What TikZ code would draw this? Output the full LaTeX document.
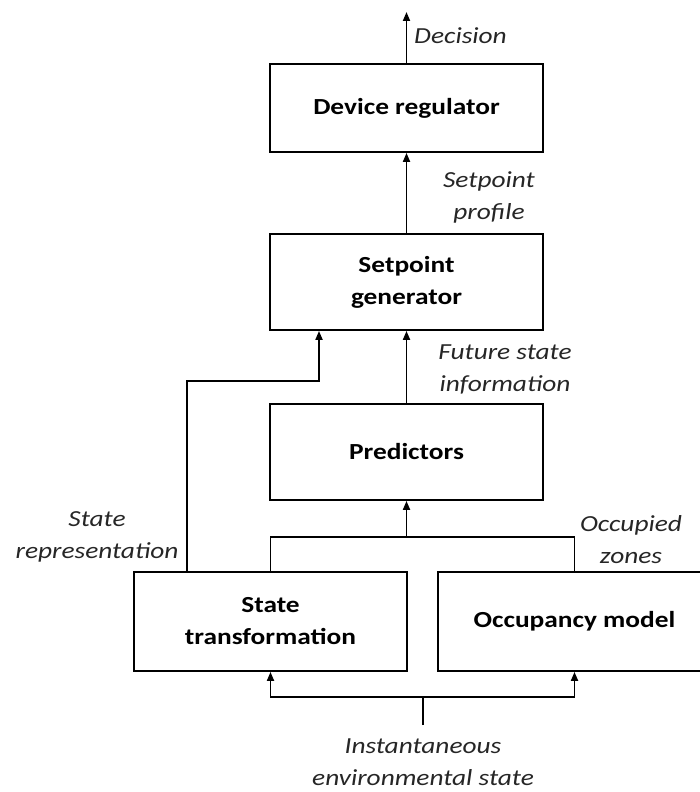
\documentclass[tikz,border=0pt]{standalone}
\usepackage{fontspec}
\setmainfont{Carlito}[FakeStretch=1.19]
\usetikzlibrary{arrows.meta}
\begin{document}
\begin{tikzpicture}[x=1pt,y=-1pt,
  block/.style={draw, line width=1.8pt, minimum width=273pt, inner sep=0pt,
    align=center, font=\fontsize{23}{32}\selectfont\bfseries},
  lbl/.style={align=center, inner sep=0pt, text=black!85, font=\fontsize{23}{32}\selectfont\itshape},
  flow/.style={line width=1.8pt},
  arr/.style={flow, -{Triangle[width=7pt,length=9pt]}}]
\useasboundingbox (0,0) rectangle (699,792);

% processing blocks
\node[block, minimum height=88pt] (dev)  at (406.5,108)   {Device regulator};
\node[block, minimum height=96pt] (spg)  at (406.5,282)   {Setpoint\\generator};
\node[block, minimum height=96pt] (pred) at (406.5,452)   {Predictors};
\node[block, minimum height=99pt] (stt)  at (270.5,621.5) {State\\transformation};
\node[block, minimum height=99pt] (occ)  at (574.5,621.5) {Occupancy model};

% free ends and junctions
\coordinate (dout)  at (406.5,12);
\coordinate (merge) at (406.5,537);
\coordinate (src)   at (423,725);
\coordinate (split) at (423,697);

% upward flow
\draw[arr] (dev.north) -- (dout);
\draw[arr] (spg.north) -- (dev.south);
\draw[arr] (pred.north) -- (spg.south);
\draw[arr] ([xshift=54pt]stt.north west) -- ++(0,-190) -| ([xshift=-87.5pt]spg.south);
\draw[flow] (stt.north) |- (merge) -| (occ.north);
\draw[arr] (merge) -- (pred.south);
\draw[flow] (src) -- (split);
\draw[arr] (split) -| (stt.south);
\draw[arr] (split) -| (occ.south);

% signal labels
\node[lbl, anchor=west] (ldec) at (414,36) {Decision};
\node[lbl] (lsp)  at (489,197) {Setpoint\\profile};
\node[lbl] (lfut) at (505,369) {Future state\\information};
\node[lbl] (lrep) at (97,537)  {State\\representation};
\node[lbl] (locc) at (631,540) {Occupied\\zones};
\node[lbl] (lins) at (423,762) {Instantaneous\\environmental state};
\end{tikzpicture}
\end{document}
